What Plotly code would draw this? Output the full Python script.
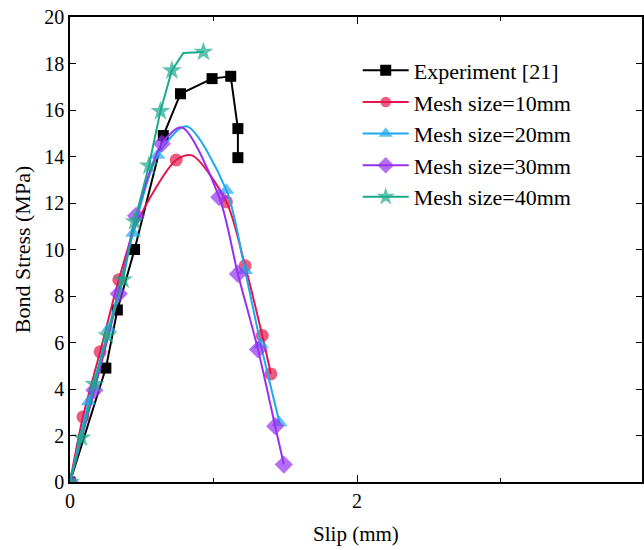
import plotly.graph_objects as go

exp_x = [0, 0.25, 0.33, 0.45, 0.65, 0.77, 0.99, 1.12, 1.17, 1.17]
exp_y = [0, 4.9, 7.4, 10.0, 14.9, 16.7, 17.35, 17.45, 15.2, 13.95]

m10_x = [0, 0.09, 0.21, 0.34, 0.47, 0.74, 0.85, 1.09, 1.22, 1.34, 1.40]
m10_y = [0, 2.8, 5.6, 8.7, 11.2, 13.85, 14.05, 12.05, 9.3, 6.3, 4.65]
m10_mark = [1, 1, 1, 1, 0, 1, 0, 1, 1, 1, 1]

m20_x = [0, 0.13, 0.27, 0.44, 0.61, 0.81, 1.09, 1.22, 1.33, 1.46]
m20_y = [0, 3.45, 6.6, 10.7, 14.05, 15.3, 12.55, 9.1, 5.9, 2.55]
m20_mark = [1, 1, 1, 1, 1, 0, 1, 1, 1, 1]

m30_x = [0, 0.17, 0.34, 0.46, 0.64, 0.78, 1.04, 1.17, 1.31, 1.43, 1.49]
m30_y = [0, 3.95, 8.1, 11.45, 14.55, 15.25, 12.25, 8.95, 5.7, 2.4, 0.75]
m30_mark = [1, 1, 1, 1, 1, 0, 1, 1, 1, 1, 1]

m40_x = [0, 0.08, 0.17, 0.26, 0.37, 0.45, 0.55, 0.63, 0.71, 0.79, 0.93]
m40_y = [0, 1.9, 4.2, 6.3, 8.7, 11.2, 13.6, 15.95, 17.7, 18.45, 18.5]
m40_mark = [1, 1, 1, 1, 1, 1, 1, 1, 1, 0, 1]

names = ["Experiment [21]", "Mesh size=10mm", "Mesh size=20mm",
         "Mesh size=30mm", "Mesh size=40mm"]

fig = go.Figure()

def add(x, y, name, color, symbol, size, mark=None, shape="linear"):
    sizes = size if mark is None else [size * m for m in mark]
    fig.add_trace(go.Scatter(
        x=x, y=y, name=name, mode="lines+markers",
        line=dict(color=color, width=2, shape=shape, smoothing=0.8),
        marker=dict(color=color, symbol=symbol, size=sizes,
                    line=dict(width=0)),
    ))

add(exp_x, exp_y, names[0], "#000000", "square", 11)
add(m10_x, m10_y, names[1], "#E5154C", "circle", 13, m10_mark, "spline")
add(m20_x, m20_y, names[2], "#1FA8EE", "triangle-up", 14, m20_mark, "spline")
add(m30_x, m30_y, names[3], "#9630F2", "diamond", 14, m30_mark, "spline")
add(m40_x, m40_y, names[4], "#19AA8C", "star", 15, m40_mark, "linear")

font = "Liberation Serif, Times New Roman, serif"

fig.update_layout(
    width=644, height=550,
    margin=dict(l=70, r=0, t=17, b=68),
    plot_bgcolor="white", paper_bgcolor="white",
    font=dict(family=font, size=20, color="black"),
    showlegend=True,
    legend=dict(x=0.503, y=0.93, xanchor="left", yanchor="top",
                font=dict(family=font, size=22, color="black"),
                bgcolor="rgba(0,0,0,0)", itemwidth=46,
                tracegroupgap=0),
    xaxis=dict(
        range=[0, 3.986], tickvals=[0, 2, 4], ticks="inside", ticklen=7,
        tickwidth=1.3, tickcolor="black",
        minor=dict(tickvals=[1, 3], ticks="inside", ticklen=4,
                   tickcolor="black", tickwidth=1.3),
        showline=True, linecolor="black", linewidth=1.5, mirror="ticks",
        showgrid=False, zeroline=False,
        title=dict(text="Slip (mm)", font=dict(size=21, family=font), standoff=16),
        tickfont=dict(size=20, family=font),
    ),
    yaxis=dict(
        range=[0, 20], dtick=2, ticks="inside", ticklen=6,
        tickwidth=1.3, tickcolor="black",
        showline=True, linecolor="black", linewidth=1.5, mirror="ticks",
        showgrid=False, zeroline=False,
        title=dict(text="Bond Stress (MPa)", font=dict(size=22, family=font), standoff=8),
        tickfont=dict(size=20, family=font),
    ),
)

fig.write_html("out.html")
